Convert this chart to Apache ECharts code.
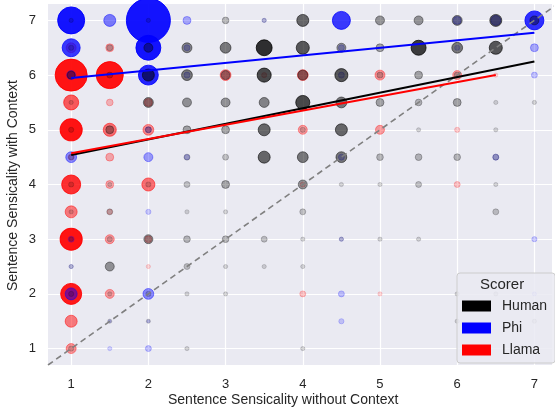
<!DOCTYPE html>
<html><head><meta charset="utf-8">
<script src="https://cdn.jsdelivr.net/npm/echarts@6/dist/echarts.min.js"></script>
<style>html,body{margin:0;padding:0;background:#fff}#c{width:555px;height:412px}</style>
</head><body><div id="c"></div>
<script>
// [without context, with context, count]
const humanPts = [
 [1,7,2],[2,7,2],[3,7,5],[3.5,7,2],[4,7,16],[5,7,9],[5.5,7,9],[6,7,11],[6.5,7,16],[7,7,9],
 [1,6.5,3],[1.5,6.5,4],[2,6.5,9],[2.5,6.5,11],[3,6.5,13],[3.5,6.5,28],[4,6.5,19],[4.5,6.5,9],[5,6.5,7],[5.5,6.5,25],[6,6.5,13],[6.5,6.5,19],
 [1,6,7],[1.5,6,4],[2,6,16],[2.5,6,13],[3,6,9],[3.5,6,22],[4,6,11],[4.5,6,19],[5,6,4],[5.5,6,7],[6,6,4],
 [1,5.5,2],[2,5.5,11],[2.5,5.5,9],[3,5.5,9],[3.5,5.5,11],[4,5.5,22],[4.5,5.5,13],[5,5.5,7],[5.5,5.5,5],[6,5.5,7],[6.5,5.5,2],[7,5.5,2],
 [1,5,3],[1.5,5,7],[2,5,4],[2.5,5,7],[3,5,7],[3.5,5,16],[4,5,3],[4.5,5,16],[5.5,5,2],[6.5,5,2],
 [1,4.5,3],[2.5,4.5,4],[3,4.5,4],[3.5,4.5,16],[4,4.5,13],[4.5,4.5,13],[5,4.5,5],[5.5,4.5,5],[6,4.5,5],[6.5,4.5,4],
 [1,4,3],[1.5,4,2],[2,4,3],[2.5,4,4],[3,4,7],[4,4,9],[4.5,4,2],[5,4,2],[5.5,4,4],[6.5,4,2],
 [1,3.5,2],[1.5,3.5,4],[2.5,3.5,2],[3,3.5,2],[4,3.5,4],[6.5,3.5,4],
 [1,3,2],[1.5,3,3],[2,3,9],[2.5,3,5],[3,3,5],[3.5,3,4],[4,3,2],[4.5,3,2],[5,3,2],[5.5,3,2],
 [1,2.5,2],[1.5,2.5,9],[2.5,2.5,4],[3,2.5,2],[3.5,2.5,2],[4,2.5,2],
 [1,2,3],[1.5,2,2],[2,2,3],[2.5,2,2],[3,2,2],[6,2,2],[6.5,2,2],
 [1.5,1.5,2],[2,1.5,2],[6,1.5,2],[7,1.5,2],
 [1,1,3],[2.5,1,2],[4,1,2]
];
const phiPts = [
 [1,7,81],[1.5,7,16],[2,7,215],[2.5,7,7],[3.5,7,2],[4.5,7,36],[6,7,7],[6.5,7,11],[7,7,40],
 [1,6.5,36],[2,6.5,69],[2.5,6.5,4],[4.5,6.5,4],[6,6.5,3],[7,6.5,7],
 [1,6,9],[2,6,44],[2.5,6,4],[4.5,6,4],[7,6,4],
 [2,5,4],
 [1,4.5,13],[2,4.5,9],[2.5,4.5,3],[4.5,4.5,4],[6.5,4.5,4],
 [2,3.5,3],
 [1,3,4],[4.5,3,2],[7,3,3],
 [1,2.5,2],
 [1,2,16],[2,2,13],[4.5,2,4],[7,2,2],
 [1.5,1.5,1],[2,1.5,1],[4.5,1.5,3],
 [1.5,1,2],[2,1,4]
];
const llamaPts = [
 [1,6.5,11],[1.5,6.5,7],
 [1,6,114],[1.5,6,81],[3,6,13],[3.5,6,3],[4,6,13],[5,6,11],[6,6,9],[6.5,6,2],
 [1,5.5,25],[1.5,5.5,5],[2,5.5,7],
 [1,5,54],[1.5,5,19],[2,5,13],[4,5,9],[5,5,9],[6,5,3],
 [1,4.5,4],[1.5,4.5,7],
 [1,4,40],[1.5,4,7],[2,4,19],[4,4,3],[6,4,4],
 [1,3.5,16],[1.5,3.5,3],
 [1,3,54],[1.5,3,9],[2,3,5],
 [2,2.5,2],
 [1,2,49],[1.5,2,9],[4,2,4],[5,2,2],
 [1,1.5,16],
 [1,1,11]
];
// regression fits: intercept, slope, x-range
const scorers = ['Human','Phi','Llama'];
const colors = ['#000000','#0000ff','#ff0000'];
const fitIntercept = [4.255, 5.81, 4.31];
const fitSlope = [0.285, 0.138, 0.26];
const fitXMin = [1, 1, 1];
const fitXMax = [7, 7, 6.5];
const xTicks = [1,2,3,4,5,6,7];
const yTicks = [1,2,3,4,5,6,7];

const SIZE_K = 3;
const diam = n => SIZE_K*Math.sqrt(n);
const alphaBlack = n => Math.max(0.15, Math.min(0.9, 0.06*diam(n)-0.15));
const alphaColor = n => Math.max(0.15, Math.min(0.92, 0.045*diam(n)-0.05));
const allPts = [humanPts, phiPts, llamaPts];

const font = 'Liberation Sans, Arial, sans-serif';
const scatterSeries = [2,1,0].map(i => ({
  name: scorers[i], type: 'scatter', z: 2,
  symbolSize: v => diam(v[2]),
  itemStyle: {color: colors[i], borderColor: colors[i], borderWidth: 1},
  emphasis: {disabled: true},
  data: allPts[i].map(p => ({value: p, itemStyle: {opacity: (i === 0 ? alphaBlack : alphaColor)(p[2])}}))
}));
const fitSeries = [0,1,2].map(i => ({
  name: scorers[i] + ' fit', type: 'line', z: 4, symbol: 'none', silent: true,
  lineStyle: {color: colors[i], width: 2},
  data: [fitXMin[i], fitXMax[i]].map(x => [x, fitIntercept[i] + fitSlope[i]*x])
}));
const diagSeries = {
  name: 'diag', type: 'line', z: 3, symbol: 'none', silent: true,
  lineStyle: {color: '#808080', width: 1.6, type: [6, 4]},
  data: [[0.7,0.7],[7.3,7.3]]
};

const chart = echarts.init(document.getElementById('c'), null, {renderer: 'canvas'});
const intLabel = v => (Math.abs(v - Math.round(v)) < 1e-6 && xTicks.includes(Math.round(v))) ? String(Math.round(v)) : '';
chart.setOption({
  animation: false,
  backgroundColor: '#ffffff',
  grid: {left: 48, right: 0, top: 4, bottom: 47, show: true, backgroundColor: '#eaeaf2', borderWidth: 0},
  xAxis: {
    type: 'value', min: 0.7, max: 7.228, minInterval: 1, maxInterval: 1,
    axisLine: {show: false}, axisTick: {show: false},
    splitLine: {show: true, showMinLine: false, showMaxLine: false, lineStyle: {color: '#ffffff', width: 1.2}},
    axisLabel: {formatter: intLabel, color: '#262626', fontSize: 13, fontFamily: font, margin: 13}
  },
  yAxis: {
    type: 'value', min: 0.7, max: 7.3, minInterval: 1, maxInterval: 1,
    axisLine: {show: false}, axisTick: {show: false},
    splitLine: {show: true, showMinLine: false, showMaxLine: false, lineStyle: {color: '#ffffff', width: 1.2}},
    axisLabel: {formatter: v => (yTicks.includes(v) ? String(v) : ''), color: '#262626', fontSize: 13, fontFamily: font, margin: 12}
  },
  legend: {
    data: scorers, orient: 'vertical', left: 457, top: 273,
    padding: [26, 8, 6, 5], itemGap: 8, itemWidth: 29, itemHeight: 11, icon: 'rect',
    backgroundColor: 'rgba(234,234,242,0.85)', borderColor: '#cccccc', borderWidth: 1, borderRadius: 3,
    itemStyle: {borderWidth: 0, opacity: 1},
    textStyle: {color: '#262626', fontSize: 14, fontFamily: font, padding: [0,0,0,6]},
    selectedMode: false
  },
  graphic: [
    {type: 'text', left: 480, top: 277, z: 100, style: {text: 'Scorer', fill: '#262626', font: '15px ' + font}},
    {type: 'text', left: 168, top: 393, style: {text: 'Sentence Sensicality without Context', fill: '#262626', font: '14px ' + font}},
    {type: 'text', x: 6, y: 291, rotation: Math.PI/2, style: {text: 'Sentence Sensicality with Context', fill: '#262626', font: '14px ' + font}}
  ],
  series: [...scatterSeries, diagSeries, ...fitSeries]
});
</script></body></html>
